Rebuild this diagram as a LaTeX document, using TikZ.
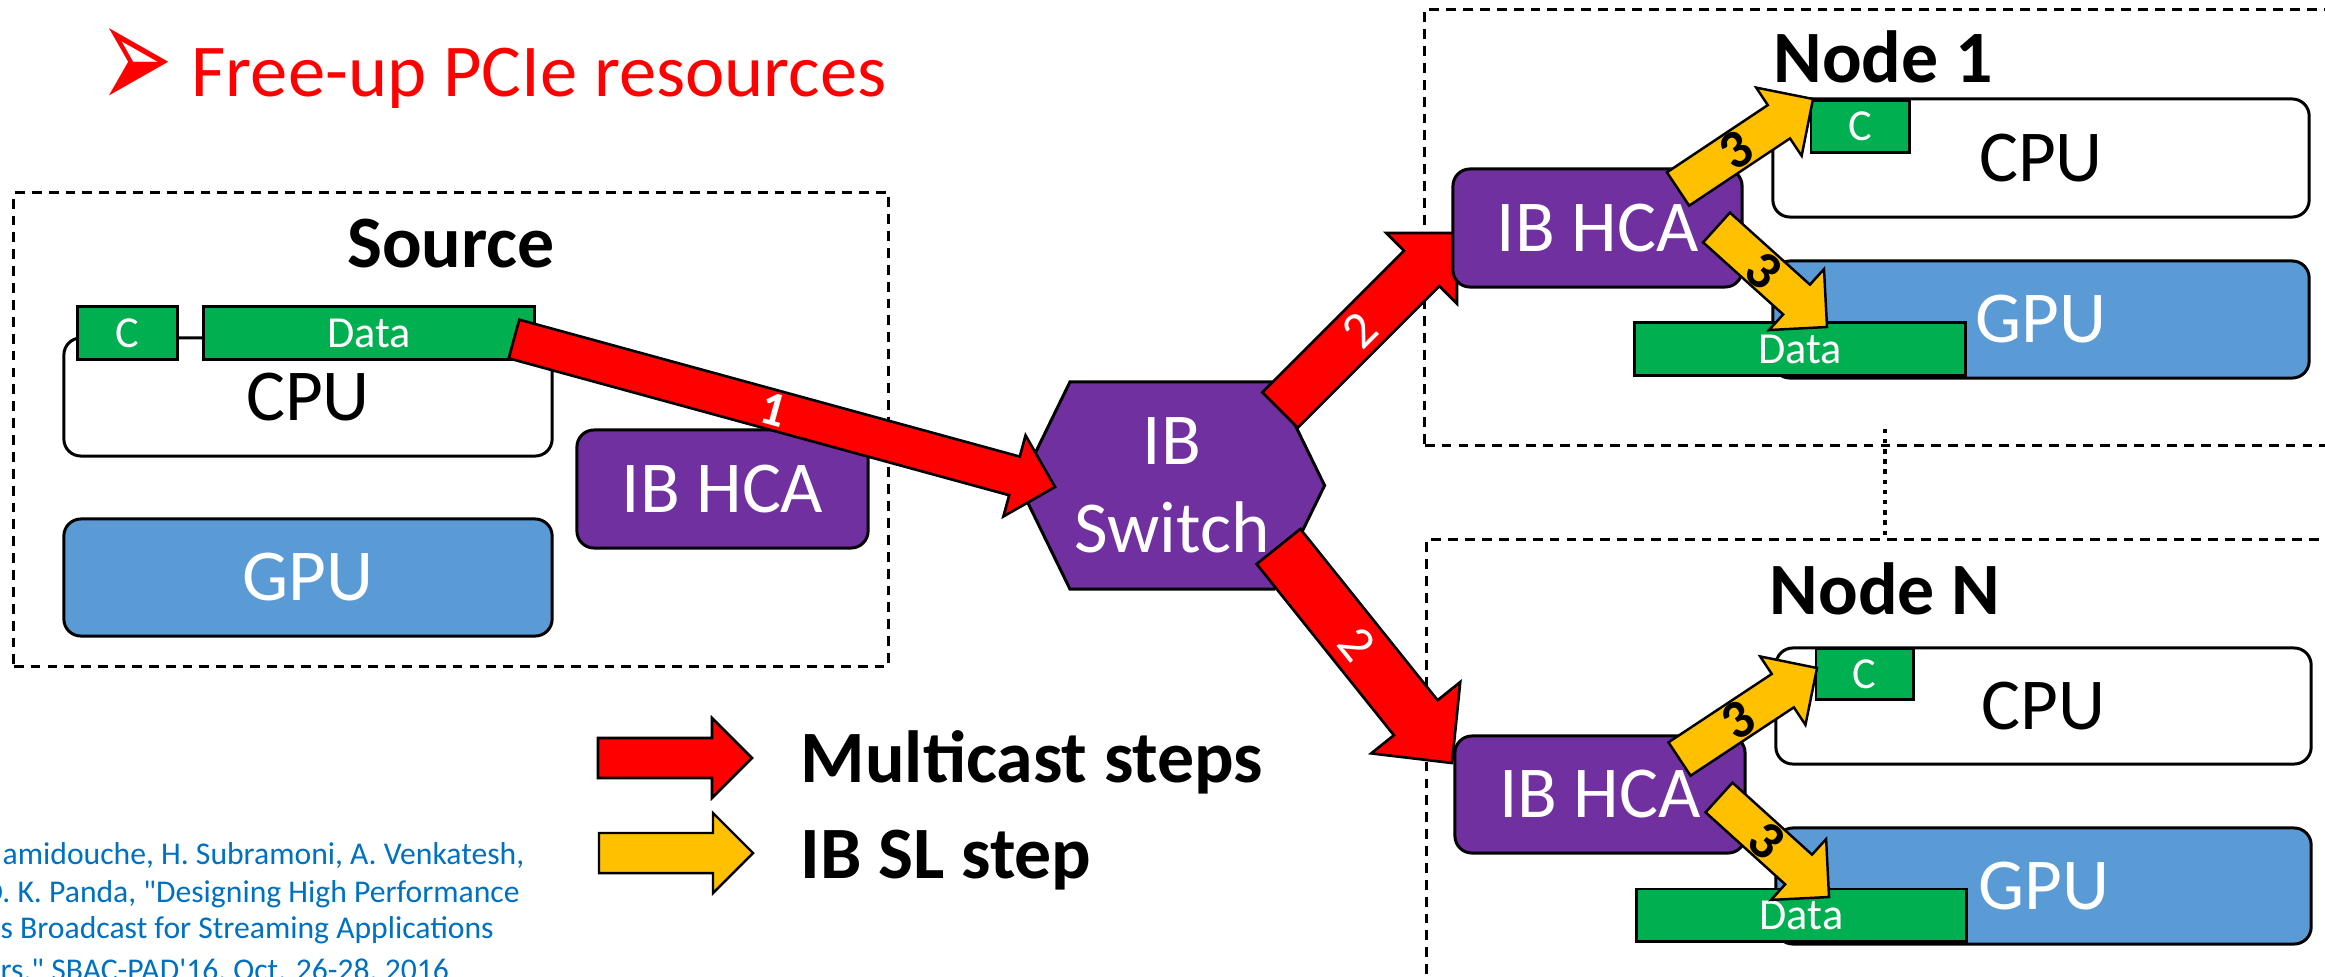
\documentclass[tikz,border=0pt]{standalone}
\usepackage{fontspec}
\setmainfont{Carlito}
\newfontfamily\symfont{DejaVu Sans}
\usepackage{xcolor}
\usetikzlibrary{calc, positioning, shapes.symbols}

\definecolor{hcapurple}{RGB}{112,48,160}
\definecolor{gpublue}{RGB}{91,155,213}
\definecolor{taggreen}{RGB}{0,176,80}
\definecolor{stepyellow}{RGB}{255,192,0}
\definecolor{citeblue}{RGB}{0,112,192}

% block arrow: style, tail, tip, half shaft, half head, head length
\newcommand{\blockarrow}[6]{%
  \coordinate (ba-h) at ($(#3)!#6!(#2)$);
  \draw[#1] ($(#2)!#4!90:(#3)$) -- ($(ba-h)!#4!90:(#3)$) -- ($(ba-h)!#5!90:(#3)$) -- (#3)
    -- ($(ba-h)!#5!-90:(#3)$) -- ($(ba-h)!#4!-90:(#3)$) -- ($(#2)!#4!-90:(#3)$) -- cycle;
}

\begin{document}
\begin{tikzpicture}[x=0.01cm, y=-0.01cm,
    box/.style={draw, line width=0.85pt, rounded corners=0.17cm, inner sep=0pt, font=\fontsize{20.8}{25}\selectfont},
    cpubox/.style={box, fill=white},
    gpubox/.style={box, fill=gpublue, text=white},
    hcabox/.style={box, fill=hcapurple, text=white},
    tag/.style={draw, line width=0.85pt, fill=taggreen, text=white, inner sep=0pt, font=\fontsize{12.6}{15}\selectfont},
    group/.style={draw, line width=0.8pt, dash pattern=on 2.8pt off 2pt, inner sep=0pt},
    grouptitle/.style={anchor=base, inner sep=0pt, font=\fontsize{21}{25}\selectfont\bfseries},
    redarrow/.style={draw, line width=0.75pt, fill=red},
    yelarrow/.style={draw, line width=0.7pt, fill=stepyellow},
    steplabel/.style={sloped, inner sep=0pt},
    legendtext/.style={anchor=base west, inner sep=0pt, font=\fontsize{21}{25}\selectfont\bfseries},
    cite/.style={anchor=base west, inner sep=0pt, text=citeblue, font=\fontsize{9}{11}\selectfont}
]
\useasboundingbox (0,0) rectangle (2325,976);
\clip (0,0) rectangle (2325,976);

% groups
\node[group, minimum width=8.74cm, minimum height=4.73cm] (srcgrp) at (451,429.5) {};
\node[group, minimum width=9.20cm, minimum height=4.35cm] (n1grp) at (1885,227.5) {};
\node[group, minimum width=9.16cm, minimum height=4.60cm] (nngrp) at (1885,770) {};
\node[grouptitle] (srctitle) at (451,268) {Source};
\node[grouptitle] (n1title) at (1883,83) {Node 1};
\node[grouptitle] (nntitle) at (1885,614) {Node N};
\draw[line width=1.2pt, dash pattern=on 1.3pt off 1.6pt] ($(n1grp.south)+(0,-18)$) -- (nngrp.north);

% source
\node[cpubox, minimum width=4.88cm, minimum height=1.18cm] (srccpu) at (308,397) {CPU};
\node[tag, minimum width=0.99cm, minimum height=0.52cm] (srcc) at (127.5,333) {C};
\node[tag, minimum width=3.30cm, minimum height=0.52cm] (srcdata) at (369,333) {Data};
\node[gpubox, minimum width=4.88cm, minimum height=1.17cm] (srcgpu) at (308,577.5) {GPU};
\node[hcabox, minimum width=2.91cm, minimum height=1.18cm] (srchca) at (722.5,489) {IB HCA};

% switch
\node[draw, line width=0.85pt, fill=hcapurple, text=white, signal, signal to=west and east,
  signal pointer angle=128, minimum width=3.05cm, minimum height=2.07cm, inner sep=0pt,
  align=center, font=\fontsize{20.8}{25}\selectfont] (switch) at (1172,485.5) {IB\\Switch};

% multicast steps
\coordinate (a1tail) at (514,339);
\coordinate (a1tip) at (1055,487);
\coordinate (a2tail) at (1280,410);
\coordinate (a2tip) at (1457,233);
\coordinate (a3tail) at (1278.5,546.5);
\coordinate (a3tip) at (1452,763);
\blockarrow{redarrow}{a1tail}{a1tip}{0.2cm}{0.42cm}{0.42cm}
\blockarrow{redarrow}{a2tail}{a2tip}{0.25cm}{0.5cm}{0.5cm}
\blockarrow{redarrow}{a3tail}{a3tip}{0.28cm}{0.57cm}{0.58cm}
\path (a1tail) -- (a1tip) node[steplabel, pos=0.48, text=white, font=\fontsize{13.8}{16}\selectfont\bfseries] (l1) {1};
\path (a2tail) -- (a2tip) node[steplabel, pos=0.45, text=white, font=\fontsize{14.8}{18}\selectfont] (l2) {2};
\path (a3tail) -- (a3tip) node[steplabel, pos=0.45, text=white, font=\fontsize{14.8}{18}\selectfont] (l3) {2};

% node 1
\node[cpubox, minimum width=5.36cm, minimum height=1.18cm] (n1cpu) at (2041,158) {CPU};
\node[tag, minimum width=0.98cm, minimum height=0.51cm] (n1c) at (1860,126.5) {C};
\node[gpubox, minimum width=5.36cm, minimum height=1.17cm] (n1gpu) at (2041,319.5) {GPU};
\node[tag, minimum width=3.30cm, minimum height=0.52cm] (n1data) at (1800,349) {Data};
\node[hcabox, minimum width=2.89cm, minimum height=1.18cm] (n1hca) at (1597.5,228) {IB HCA};

% node N
\node[cpubox, minimum width=5.35cm, minimum height=1.16cm] (nncpu) at (2043.5,706) {CPU};
\node[tag, minimum width=0.97cm, minimum height=0.50cm] (nnc) at (1864.5,674) {C};
\node[gpubox, minimum width=5.35cm, minimum height=1.16cm] (nngpu) at (2043.5,886) {GPU};
\node[tag, minimum width=3.29cm, minimum height=0.52cm] (nndata) at (1801.5,915) {Data};
\node[hcabox, minimum width=2.90cm, minimum height=1.17cm] (nnhca) at (1600,794.5) {IB HCA};

% IB SL steps
\coordinate (b1tail) at (1678,189);
\coordinate (b1tip) at (1813,99);
\coordinate (b2tail) at (1716.5,227.5);
\coordinate (b2tip) at (1827,327);
\coordinate (b3tail) at (1679.5,759);
\coordinate (b3tip) at (1817,668);
\coordinate (b4tail) at (1719,797.5);
\coordinate (b4tip) at (1829,897);
\foreach \s in {b1,b2,b3,b4}{
  \blockarrow{yelarrow}{\s tail}{\s tip}{0.2cm}{0.41cm}{0.41cm}
  \path (\s tail) -- (\s tip) node[steplabel, pos=0.43, font=\fontsize{15.5}{18}\selectfont\bfseries] (\s lbl) {3};
}

% legend
\coordinate (m1tail) at (598,758);
\coordinate (m1tip) at (752,758);
\coordinate (m2tail) at (599,853);
\coordinate (m2tip) at (753,853);
\blockarrow{redarrow}{m1tail}{m1tip}{0.2cm}{0.4cm}{0.4cm}
\blockarrow{yelarrow}{m2tail}{m2tip}{0.2cm}{0.4cm}{0.4cm}
\node[legendtext] (mlabel) at (800,782) {Multicast steps};
\node[legendtext] (slabel) at (800,878) {IB SL step};

% title
\node[inner sep=0pt, text=red, yscale=1.75, font=\fontsize{25}{28}\selectfont\symfont] (bullet) at (136.5,69.5) {➢};
\node[anchor=base west, inner sep=0pt, text=red, font=\fontsize{21.2}{26}\selectfont] (title) at (191,97) {Free-up PCIe resources};

% reference
\node[cite] (cite1) at (2,864) {amidouche, H. Subramoni, A. Venkatesh,};
\node[cite] (cite2) at (-17,902) {D. K. Panda, \textquotedbl Designing High Performance};
\node[cite] (cite3) at (0,938) {s Broadcast for Streaming Applications};
\node[cite] (cite4) at (0,980) {rs,\textquotedbl{} SBAC-PAD\textquotesingle16, Oct. 26-28, 2016};

\end{tikzpicture}
\end{document}
